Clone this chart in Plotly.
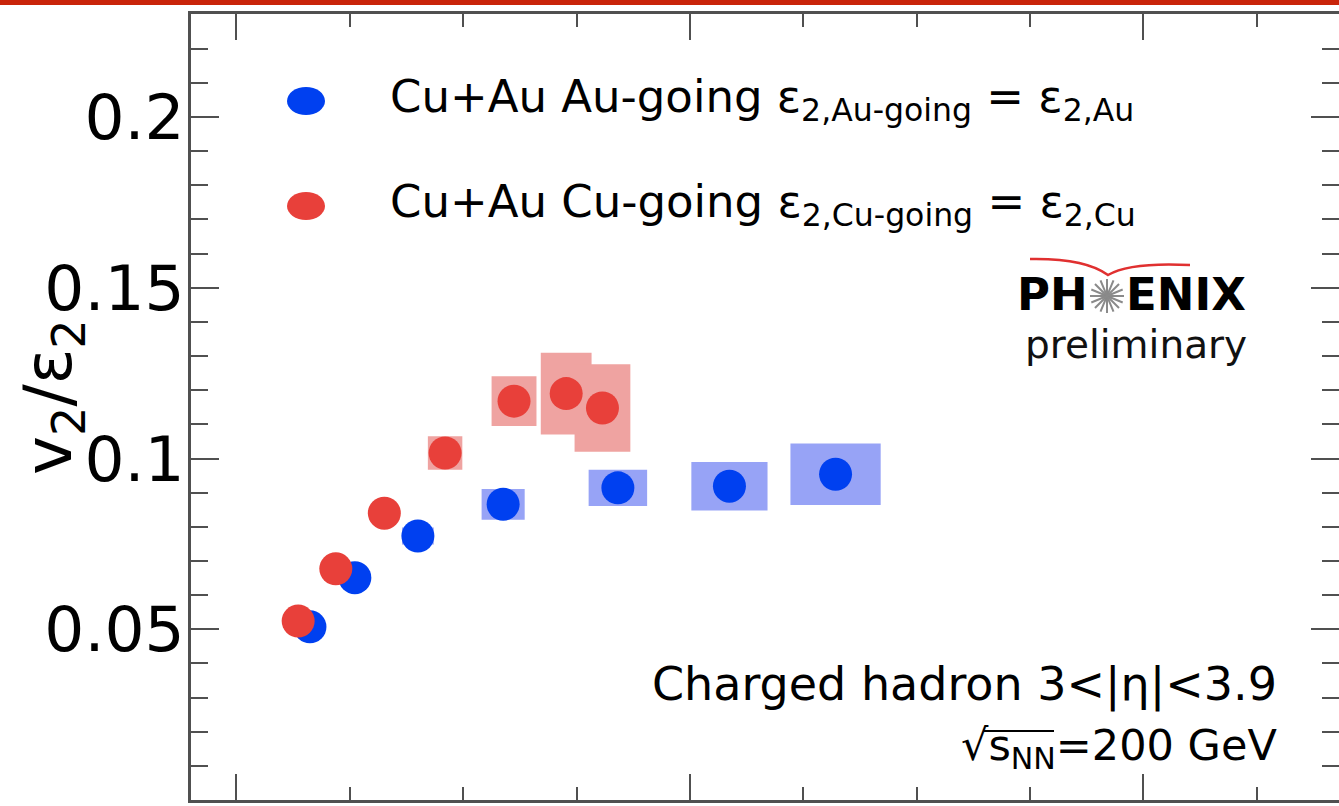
import plotly.graph_objects as go
import math

# ---------------- data ----------------
x_au = [1.62, 2.61, 4.00, 5.88, 8.41, 10.87, 13.21]
y_au = [0.0507, 0.0651, 0.0773, 0.0866, 0.0914, 0.0919, 0.0954]
sys_au = [0.0020, 0.0020, 0.0025, 0.0045, 0.0053, 0.0071, 0.0090]
boxw_au = [0.60, 0.60, 0.70, 0.95, 1.29, 1.68, 1.99]

x_cu = [1.36, 2.19, 3.26, 4.60, 6.12, 7.27, 8.07]
y_cu = [0.0524, 0.0677, 0.0840, 0.1016, 0.1168, 0.1190, 0.1148]
sys_cu = [0.0020, 0.0020, 0.0025, 0.0049, 0.0073, 0.0120, 0.0128]
boxw_cu = [0.50, 0.60, 0.60, 0.76, 0.99, 1.12, 1.23]

y_tickvals = [0, 0.05, 0.1, 0.15, 0.2]
y_ticktext = ["0", "0.05", "0.1", "0.15", "0.2"]

BLUE = "#0040f0"
RED = "#e8403a"
BLUE_BOX = "#97a3f6"
RED_BOX = "#efa3a1"
AXIS = "#505050"
FONT = "DejaVu Sans"

W, H = 1339, 806
L, R, T, B = 191, 0, 14, 6
PW, PH = W - L - R, H - T - B


def px(x):
    return (x - L) / PW


def py(y):
    return (H - B - y) / PH


fig = go.Figure()

# systematic boxes
fig.add_trace(go.Bar(x=x_au, y=[2 * s for s in sys_au],
                     base=[v - s for v, s in zip(y_au, sys_au)],
                     width=boxw_au, marker=dict(color=BLUE_BOX, line=dict(width=0)),
                     showlegend=False, hoverinfo="skip"))
fig.add_trace(go.Bar(x=x_cu, y=[2 * s for s in sys_cu],
                     base=[v - s for v, s in zip(y_cu, sys_cu)],
                     width=boxw_cu, marker=dict(color=RED_BOX, line=dict(width=0)),
                     showlegend=False, hoverinfo="skip"))

# points
fig.add_trace(go.Scatter(x=x_au, y=y_au, mode="markers",
                         marker=dict(size=33, color=BLUE, line=dict(width=0)),
                         name="Cu+Au Au-going", showlegend=False))
fig.add_trace(go.Scatter(x=x_cu, y=y_cu, mode="markers",
                         marker=dict(size=33, color=RED, line=dict(width=0)),
                         name="Cu+Au Cu-going", showlegend=False))

x0 = -1.003
x1 = x0 + PW / 45.35

fig.update_layout(
    width=W, height=H,
    margin=dict(l=L, r=R, t=T, b=B, pad=0, autoexpand=False),
    paper_bgcolor="white", plot_bgcolor="white",
    barmode="overlay",
    font=dict(family=FONT, color="black"),
    xaxis=dict(range=[x0, x1], showgrid=False, zeroline=False, automargin=False,
               showline=True, linecolor=AXIS, linewidth=2.5, mirror="ticks",
               ticks="inside", tickvals=[0, 10, 20], ticklen=26, tickwidth=2,
               tickcolor=AXIS, showticklabels=False,
               minor=dict(dtick=2.5, tick0=0, ticks="inside", ticklen=13,
                          tickwidth=2, tickcolor=AXIS, showgrid=False)),
    yaxis=dict(range=[0, (H - B - T) / 3415], showgrid=False, zeroline=False,
               automargin=False,
               showline=True, linecolor=AXIS, linewidth=2.5, mirror="ticks",
               ticks="inside", tickvals=y_tickvals, ticktext=y_ticktext,
               ticklen=28, tickwidth=2, tickcolor=AXIS, ticklabelstandoff=-9,
               tickfont=dict(family=FONT, size=63, color="black"),
               minor=dict(dtick=0.01, tick0=0, ticks="inside", ticklen=17,
                          tickwidth=2, tickcolor=AXIS, showgrid=False)),
)

shapes = []
annotations = []

# top red banner
shapes.append(dict(type="rect", xref="paper", yref="paper",
                   x0=px(0), x1=px(W), y0=py(5), y1=py(0),
                   fillcolor="#c9240a", line=dict(width=0), layer="above"))

# legend symbols
for cy, col in [(101, BLUE), (206, RED)]:
    shapes.append(dict(type="circle", xref="paper", yref="paper",
                       x0=px(287), x1=px(325), y0=py(cy + 14), y1=py(cy - 14),
                       fillcolor=col, line=dict(width=0)))

annotations.append(dict(xref="paper", yref="paper", x=px(388), y=py(99),
                        xanchor="left", yanchor="middle", showarrow=False,
                        text="Cu+Au Au-going ε<sub>2,Au-going</sub> = ε<sub>2,Au</sub>",
                        font=dict(family=FONT, size=45, color="black")))
annotations.append(dict(xref="paper", yref="paper", x=px(388), y=py(204),
                        xanchor="left", yanchor="middle", showarrow=False,
                        text="Cu+Au Cu-going ε<sub>2,Cu-going</sub> = ε<sub>2,Cu</sub>",
                        font=dict(family=FONT, size=45, color="black")))

# y axis title
annotations.append(dict(xref="paper", yref="paper", x=px(53), y=py(397),
                        xanchor="center", yanchor="middle", showarrow=False,
                        textangle=-90, text="v<sub>2</sub>/ε<sub>2</sub>",
                        font=dict(family=FONT, size=66, color="black")))

# PHENIX logo
annotations.append(dict(xref="paper", yref="paper", x=px(1090), y=py(294),
                        xanchor="right", yanchor="middle", showarrow=False,
                        text="<b>PH</b>", font=dict(family=FONT, size=45, color="black")))
annotations.append(dict(xref="paper", yref="paper", x=px(1124), y=py(294),
                        xanchor="left", yanchor="middle", showarrow=False,
                        text="<b>ENIX</b>", font=dict(family=FONT, size=45, color="black")))
annotations.append(dict(xref="paper", yref="paper", x=px(1136), y=py(344),
                        xanchor="center", yanchor="middle", showarrow=False,
                        text="preliminary", font=dict(family=FONT, size=39, color="#111")))
cx, cy, r = 1107, 296, 17
for k in range(8):
    a = math.pi * k / 8
    dx, dy = r * math.cos(a), r * math.sin(a)
    shapes.append(dict(type="line", xref="paper", yref="paper",
                       x0=px(cx - dx), x1=px(cx + dx), y0=py(cy - dy), y1=py(cy + dy),
                       line=dict(color="#8a8a8a", width=2)))
path = "M {:.5f},{:.5f} Q {:.5f},{:.5f} {:.5f},{:.5f} Q {:.5f},{:.5f} {:.5f},{:.5f}".format(
    px(1030), py(259), px(1085), py(258), px(1108), py(275),
    px(1130), py(262), px(1190), py(265))
shapes.append(dict(type="path", xref="paper", yref="paper", path=path,
                   line=dict(color="#e03030", width=2.5)))

# bottom-right labels
annotations.append(dict(xref="paper", yref="paper", x=px(1279), y=py(684),
                        xanchor="right", yanchor="middle", showarrow=False,
                        text="Charged hadron 3<|η|<3.9",
                        font=dict(family=FONT, size=46, color="black")))
annotations.append(dict(xref="paper", yref="paper", x=px(1279), y=py(748),
                        xanchor="right", yanchor="middle", showarrow=False,
                        text="√s<sub>NN</sub>=200 GeV",
                        font=dict(family=FONT, size=43, color="black")))
shapes.append(dict(type="line", xref="paper", yref="paper",
                   x0=px(984), x1=px(1054), y0=py(731), y1=py(731),
                   line=dict(color="black", width=2)))

fig.update_layout(shapes=shapes, annotations=annotations)
fig.write_html("out.html", config={"displayModeBar": False},
               post_script="document.body.style.margin='0';document.body.style.overflow='hidden';")
